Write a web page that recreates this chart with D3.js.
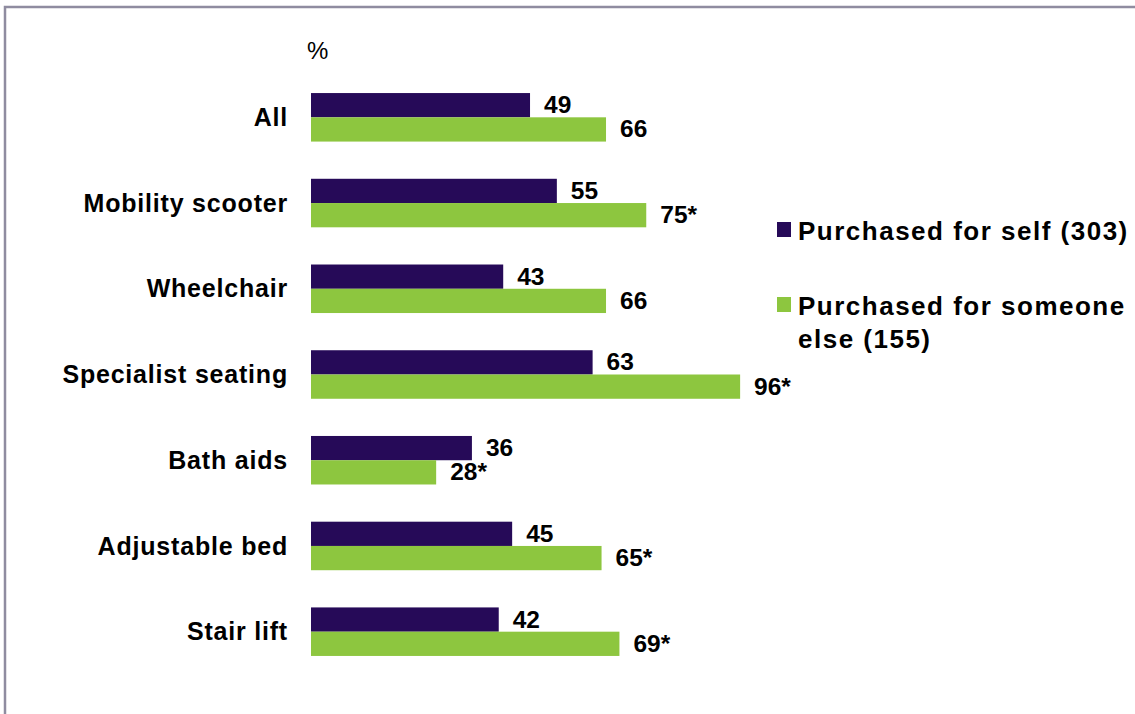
<!DOCTYPE html>
<html>
<head>
<meta charset="utf-8">
<script src="https://cdn.jsdelivr.net/npm/d3@7"></script>
<style>
  html, body { margin: 0; padding: 0; background: #ffffff; }
  svg { display: block; }
  text { font-family: "Liberation Sans", Arial, Helvetica, sans-serif; fill: #000; }
</style>
</head>
<body>
<svg id="chart" width="1135" height="714"></svg>
<script>
// Categories, top to bottom
const categories = ["All", "Mobility scooter", "Wheelchair", "Specialist seating", "Bath aids", "Adjustable bed", "Stair lift"];

// Series values (%)
const selfValues = [49, 55, 43, 63, 36, 45, 42];
const otherValues = [66, 75, 66, 96, 28, 65, 69];

// Value labels, with * marking significant differences
const selfLabels = ["49", "55", "43", "63", "36", "45", "42"];
const otherLabels = ["66", "75*", "66", "96*", "28*", "65*", "69*"];

// Series names shown in the legend
const seriesNames = ["Purchased for self (303)", "Purchased for someone else (155)"];
const seriesKeys = ["self", "other"];
const colors = { self: "#260a58", other: "#8dc63f" };

const svg = d3.select("#chart");

// Frame around the chart area
svg.append("rect")
  .attr("x", 5).attr("y", 7)
  .attr("width", 1300).attr("height", 900)
  .attr("fill", "none")
  .attr("stroke", "#8f8ca0")
  .attr("stroke-width", 2.5);

const x = d3.scaleLinear().domain([0, 100]).range([311, 758]);

const y = d3.scaleBand()
  .domain(categories)
  .range([74.45, 674.55])
  .paddingInner(0.434)
  .paddingOuter(0.217);

const ySub = d3.scaleBand()
  .domain(seriesKeys)
  .range([0, y.bandwidth()]);

const rows = categories.map((c, i) => ({
  cat: c,
  vals: [
    { key: "self", value: selfValues[i], label: selfLabels[i] },
    { key: "other", value: otherValues[i], label: otherLabels[i] }
  ]
}));

// "%" unit label
svg.append("text")
  .attr("x", 307).attr("y", 59)
  .style("font-size", "24px")
  .text("%");

const groups = svg.selectAll("g.row")
  .data(rows)
  .join("g")
  .attr("class", "row")
  .attr("transform", d => `translate(0,${y(d.cat)})`);

// Bars
groups.selectAll("rect")
  .data(d => d.vals)
  .join("rect")
  .attr("x", x(0))
  .attr("y", d => ySub(d.key))
  .attr("width", d => x(d.value) - x(0))
  .attr("height", ySub.bandwidth())
  .attr("fill", d => colors[d.key]);

// Value labels
groups.selectAll("text.val")
  .data(d => d.vals)
  .join("text")
  .attr("class", "val")
  .attr("x", d => x(d.value) + 14)
  .attr("y", d => ySub(d.key) + ySub.bandwidth() / 2 + 8)
  .style("font-size", "24.5px")
  .style("font-weight", "bold")
  .text(d => d.label);

// Category labels
const yAxis = d3.axisLeft(y).tickSize(0).tickPadding(0);
const axisG = svg.append("g")
  .attr("transform", "translate(288,0)")
  .call(yAxis);
axisG.select(".domain").remove();
axisG.selectAll("text")
  .attr("dy", null)
  .attr("y", 8.7)
  .attr("x", 0)
  .style("font-size", "25px")
  .style("font-weight", "bold")
  .style("letter-spacing", "0.8px")
  .style("font-family", "'Liberation Sans', Arial, sans-serif")
  .attr("fill", "#000");

// Legend
const legend = svg.append("g").attr("class", "legend");
const legendItems = [
  { key: "self", lines: ["Purchased for self (303)"], top: 222 },
  { key: "other", lines: ["Purchased for someone", "else (155)"], top: 297 }
];
legendItems.forEach(item => {
  legend.append("rect")
    .attr("x", 777).attr("y", item.top)
    .attr("width", 14).attr("height", 15)
    .attr("fill", colors[item.key]);
  const t = legend.append("text")
    .attr("x", 798).attr("y", item.top + 18)
    .style("font-size", "26px")
    .style("font-weight", "bold")
    .style("letter-spacing", "1.5px");
  item.lines.forEach((ln, i) => {
    t.append("tspan")
      .attr("x", 798)
      .attr("dy", i === 0 ? 0 : 33)
      .text(ln);
  });
});
</script>
</body>
</html>
